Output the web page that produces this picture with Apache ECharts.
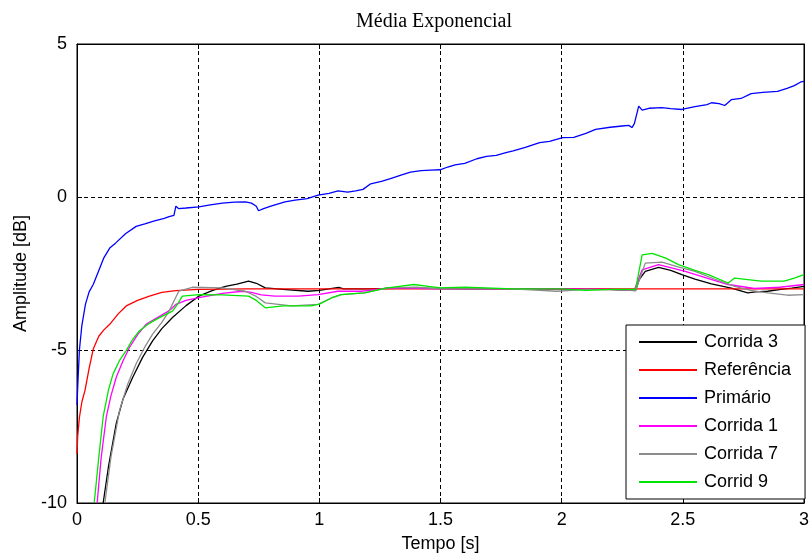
<!DOCTYPE html>
<html>
<head>
<meta charset="utf-8">
<script src="https://cdn.jsdelivr.net/npm/echarts@6/dist/echarts.min.js"></script>
<style>html,body{margin:0;padding:0;background:#fff}#c{width:812px;height:558px}</style>
</head>
<body>
<div id="c"></div>
<script>
const xTicks = ['0', '0.5', '1', '1.5', '2', '2.5', '3'];
const yTicks = ['-10', '-5', '0', '5'];

const tCorrida3 = [0.108,0.13,0.162,0.19,0.23,0.27,0.312,0.35,0.394,0.45,0.503,0.56,0.613,0.66,0.708,0.74,0.777,0.85,0.954,1.0,1.08,1.1,1.2,1.4,1.6,1.8,2.0,2.2,2.28,2.305,2.32,2.345,2.4,2.45,2.496,2.55,2.618,2.7,2.768,2.8,2.85,2.905,2.95,3.0];
const vCorrida3 = [-10,-8.8,-7.4,-6.6,-5.89,-5.25,-4.7,-4.3,-3.94,-3.55,-3.24,-3.05,-2.92,-2.85,-2.75,-2.82,-2.97,-3.02,-3.08,-3.05,-2.95,-3.0,-3.0,-2.98,-3.0,-3.0,-3.0,-3.02,-3.05,-3.06,-2.7,-2.43,-2.3,-2.4,-2.54,-2.68,-2.84,-2.98,-3.13,-3.1,-3.08,-3.02,-2.98,-2.92];

const tReferencia = [0,0.003,0.01,0.02,0.033,0.05,0.067,0.09,0.11,0.135,0.17,0.203,0.25,0.299,0.35,0.408,0.5,0.7,3.0];
const vReferencia = [-8.4,-7.8,-7.2,-6.7,-6.32,-5.6,-4.97,-4.55,-4.35,-4.16,-3.82,-3.56,-3.38,-3.24,-3.12,-3.06,-3.02,-3.0,-3.0];

const tPrimario = [0,0.004,0.01,0.02,0.035,0.05,0.067,0.09,0.11,0.135,0.16,0.2,0.244,0.28,0.32,0.36,0.38,0.4,0.408,0.42,0.45,0.503,0.55,0.6,0.65,0.695,0.72,0.74,0.749,0.77,0.8,0.858,0.9,0.95,0.995,1.04,1.077,1.117,1.15,1.18,1.212,1.26,1.3,1.34,1.376,1.42,1.46,1.498,1.53,1.56,1.6,1.65,1.69,1.73,1.77,1.8,1.85,1.909,1.95,2.004,2.05,2.1,2.14,2.2,2.25,2.277,2.29,2.3,2.318,2.332,2.36,2.414,2.45,2.496,2.55,2.6,2.618,2.65,2.673,2.7,2.74,2.782,2.83,2.891,2.93,2.96,2.987,3.0];
const vPrimario = [-6.8,-6.0,-5.0,-4.2,-3.5,-3.1,-2.86,-2.4,-2.0,-1.67,-1.5,-1.2,-0.96,-0.88,-0.78,-0.7,-0.64,-0.6,-0.3,-0.38,-0.36,-0.32,-0.26,-0.2,-0.17,-0.16,-0.2,-0.3,-0.45,-0.38,-0.3,-0.16,-0.1,-0.05,0.06,0.12,0.2,0.16,0.2,0.25,0.43,0.52,0.62,0.72,0.81,0.86,0.88,0.89,0.98,1.05,1.1,1.25,1.33,1.36,1.45,1.51,1.62,1.78,1.82,1.94,1.95,2.08,2.21,2.28,2.32,2.34,2.27,2.4,2.97,2.84,2.9,2.92,2.89,2.86,2.95,3.02,3.08,3.05,2.99,3.18,3.22,3.38,3.42,3.45,3.55,3.64,3.76,3.78];

const tCorrida1 = [0.083,0.1,0.121,0.14,0.162,0.19,0.217,0.25,0.285,0.33,0.367,0.39,0.408,0.45,0.503,0.6,0.681,0.72,0.76,0.817,0.913,0.995,1.077,1.172,1.22,1.281,1.35,1.5,1.8,2.0,2.2,2.3,2.332,2.4,2.51,2.6,2.687,2.796,2.9,3.0];
const vCorrida1 = [-10,-8.5,-7.18,-6.5,-5.89,-5.35,-4.91,-4.5,-4.16,-3.95,-3.78,-3.65,-3.51,-3.38,-3.29,-3.15,-3.08,-3.12,-3.2,-3.24,-3.24,-3.19,-3.08,-3.08,-3.04,-2.97,-2.98,-3.0,-3.0,-3.0,-3.02,-3.04,-2.38,-2.21,-2.43,-2.65,-2.86,-2.99,-2.95,-2.86];

const tCorrida7 = [0.115,0.14,0.176,0.21,0.244,0.28,0.312,0.35,0.38,0.4,0.42,0.476,0.6,0.695,0.74,0.777,0.885,0.995,1.05,1.09,1.186,1.28,1.4,1.5,1.8,1.98,2.1,2.305,2.33,2.345,2.414,2.48,2.55,2.63,2.714,2.78,2.85,2.932,3.0];
const vCorrida7 = [-10,-8.5,-6.96,-6.1,-5.45,-4.9,-4.48,-4.1,-3.73,-3.4,-3.08,-2.95,-2.97,-3.08,-3.25,-3.46,-3.56,-3.51,-3.3,-3.19,-3.13,-2.97,-2.95,-3.0,-3.0,-3.08,-3.02,-3.05,-2.5,-2.16,-2.13,-2.28,-2.43,-2.68,-2.92,-3.05,-3.13,-3.21,-3.19];

const tCorrid9 = [0.071,0.09,0.108,0.13,0.149,0.175,0.203,0.23,0.258,0.3,0.34,0.394,0.415,0.435,0.503,0.6,0.708,0.74,0.777,0.85,0.913,0.967,1.0,1.05,1.09,1.186,1.28,1.33,1.39,1.45,1.5,1.6,1.8,2.0,2.1,2.2,2.305,2.332,2.373,2.43,2.482,2.55,2.605,2.687,2.714,2.823,2.918,2.96,3.0];
const vCorrid9 = [-10,-8.5,-7.18,-6.3,-5.78,-5.35,-5.02,-4.65,-4.37,-4.12,-3.94,-3.73,-3.5,-3.24,-3.19,-3.2,-3.24,-3.38,-3.62,-3.56,-3.56,-3.56,-3.5,-3.3,-3.19,-3.13,-2.97,-2.92,-2.86,-2.92,-2.97,-2.95,-3.0,-3.0,-3.05,-3.02,-3.02,-1.89,-1.84,-2.0,-2.21,-2.4,-2.54,-2.81,-2.65,-2.75,-2.75,-2.65,-2.54];

const seriesDefs = [
  ['Corrida 3', tCorrida3, vCorrida3, '#000000'],
  ['Referência', tReferencia, vReferencia, '#ff0000'],
  ['Primário', tPrimario, vPrimario, '#0000ff'],
  ['Corrida 1', tCorrida1, vCorrida1, '#ff00ff'],
  ['Corrida 7', tCorrida7, vCorrida7, '#8c8c8c'],
  ['Corrid 9', tCorrid9, vCorrid9, '#00e600']
];

const chart = echarts.init(document.getElementById('c'), null, {renderer: 'canvas'});
const font = 'Liberation Sans, Arial, sans-serif';
const grid = {left: 77, top: 44, right: 2, bottom: 51, show: true, borderColor: '#000', borderWidth: 1, backgroundColor: '#fff'};
const dashed = {show: true, lineStyle: {color: '#000', type: [4, 3], width: 1}};

chart.setOption({
  animation: false,
  backgroundColor: '#fff',
  title: {
    text: 'Média Exponencial', left: 434, top: 12, padding: 0, textAlign: 'center',
    textStyle: {fontFamily: 'Liberation Serif, Times New Roman, serif', fontSize: 20, fontWeight: 'normal', color: '#000'}
  },
  grid: grid,
  legend: {
    orient: 'vertical', left: 626, top: 325,
    padding: [8, 14, 8, 12], itemGap: 10, itemWidth: 58, itemHeight: 14,
    backgroundColor: '#fff', borderColor: '#000', borderWidth: 1, borderRadius: 0,
    itemStyle: {opacity: 0},
    textStyle: {fontFamily: font, fontSize: 18, color: '#000', padding: [0, 0, 0, 2]},
    data: seriesDefs.map(d => d[0])
  },
  xAxis: [{
    type: 'value', min: 0, max: 3, interval: 0.5,
    name: 'Tempo [s]', nameLocation: 'middle', nameGap: 32,
    nameTextStyle: {fontFamily: font, fontSize: 18, color: '#000'},
    axisLine: {show: true, onZero: false, lineStyle: {color: '#000'}},
    axisTick: {show: true, inside: true, length: 5, lineStyle: {color: '#000'}},
    axisLabel: {fontFamily: font, fontSize: 18, color: '#000', margin: 8, showMaxLabel: true,
      formatter: (v) => xTicks[Math.round(v / 0.5)]},
    splitLine: dashed
  }, {
    type: 'value', min: 0, max: 3, interval: 0.5, position: 'top',
    axisLine: {show: true, onZero: false, lineStyle: {color: '#000'}},
    axisTick: {show: true, inside: true, length: 5, lineStyle: {color: '#000'}},
    axisLabel: {show: false}, splitLine: {show: false}
  }],
  yAxis: [{
    type: 'value', min: -10, max: 5, interval: 5,
    name: 'Amplitude [dB]', nameLocation: 'middle', nameGap: 46,
    nameTextStyle: {fontFamily: font, fontSize: 18, color: '#000'},
    axisLine: {show: true, onZero: false, lineStyle: {color: '#000'}},
    axisTick: {show: true, inside: true, length: 5, lineStyle: {color: '#000'}},
    axisLabel: {fontFamily: font, fontSize: 18, color: '#000', margin: 10,
      formatter: (v) => yTicks[Math.round((v + 10) / 5)]},
    splitLine: dashed
  }, {
    type: 'value', min: -10, max: 5, interval: 5, position: 'right',
    axisLine: {show: true, onZero: false, lineStyle: {color: '#000'}},
    axisTick: {show: true, inside: true, length: 5, lineStyle: {color: '#000'}},
    axisLabel: {show: false}, splitLine: {show: false}
  }],
  series: seriesDefs.map(d => ({
    name: d[0], type: 'line', symbol: 'none', showSymbol: false,
    xAxisIndex: 0, yAxisIndex: 0, clip: true,
    color: d[3],
    lineStyle: {color: d[3], width: 1.3},
    data: d[1].map((t, i) => [t, d[2][i]])
  }))
});
</script>
</body>
</html>
